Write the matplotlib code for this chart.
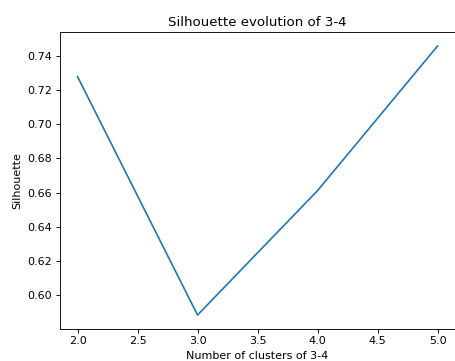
import matplotlib
matplotlib.use("Agg")
import matplotlib.pyplot as plt

clusters = [2, 3, 4, 5]
silhouette = [0.7278, 0.5885, 0.6612, 0.7457]

W, H = 455, 361
DPI = 80
fig = plt.figure(figsize=(W / DPI, H / DPI), dpi=DPI)
left, right, top, bottom = 59.5, 455.6, 32.5, 328.5
ax = fig.add_axes([left / W, (H - bottom) / H, (right - left) / W, (bottom - top) / H])
ax.plot(clusters, silhouette, color="#1f77b4", linewidth=1.5)
ax.set_title("Silhouette evolution of 3-4")
ax.set_xlabel("Number of clusters of 3-4")
ax.set_ylabel("Silhouette")
fig.savefig("out.png", dpi=DPI)
